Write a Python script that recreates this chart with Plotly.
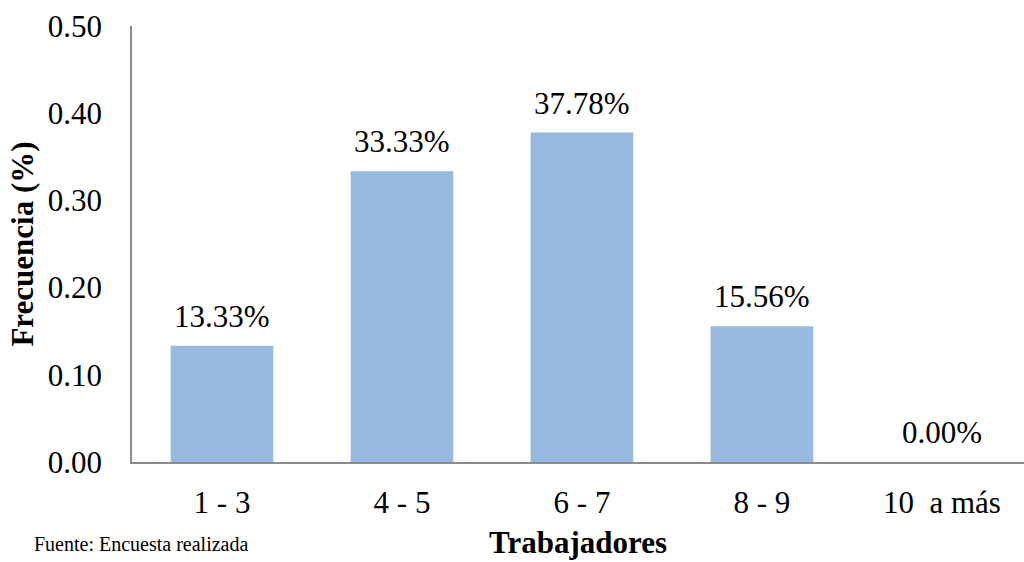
import plotly.graph_objects as go

categorias = ["1 - 3", "4 - 5", "6 - 7", "8 - 9", "10  a más"]
frecuencia = [0.1333, 0.3333, 0.3778, 0.1556, 0.0]
etiquetas = ["13.33%", "33.33%", "37.78%", "15.56%", "0.00%"]
ticks_y = [0.0, 0.1, 0.2, 0.3, 0.4, 0.5]

SERIF = "Liberation Serif, Times New Roman, serif"
posiciones = list(range(len(categorias)))

fig = go.Figure(
    go.Bar(
        x=posiciones,
        y=frecuencia,
        width=0.57,
        marker=dict(color="#97B8DF", line=dict(width=0)),
        hoverinfo="skip",
    )
)

# value labels above each bar
for xi, yi, lab in zip(posiciones, frecuencia, etiquetas):
    fig.add_annotation(
        x=xi, y=yi, xref="x", yref="y",
        text=lab, showarrow=False,
        yanchor="bottom", yshift=10,
        font=dict(family=SERIF, size=31, color="#000000"),
    )

fig.update_layout(
    width=1024,
    height=562,
    margin=dict(l=132, r=0, t=26, b=100),
    paper_bgcolor="white",
    plot_bgcolor="white",
    showlegend=False,
    font=dict(family=SERIF, color="#000000"),
    xaxis=dict(
        range=[-0.5, 4.456],
        tickmode="array",
        tickvals=posiciones,
        ticktext=categorias,
        tickfont=dict(family=SERIF, size=31),
        showline=True,
        linecolor="#8C8C8C",
        linewidth=1.5,
        ticks="",
        showgrid=False,
        zeroline=False,
        ticklabelstandoff=12,
        title=dict(
            text="<b>Trabajadores</b>",
            font=dict(family=SERIF, size=31),
            standoff=12,
        ),
    ),
    yaxis=dict(
        range=[0, 0.5],
        tickmode="array",
        tickvals=ticks_y,
        ticktext=[f"{v:.2f}" for v in ticks_y],
        tickfont=dict(family=SERIF, size=31),
        showline=True,
        linecolor="#8C8C8C",
        linewidth=1.5,
        ticks="",
        showgrid=False,
        zeroline=False,
        ticklabelstandoff=22,
        title=dict(
            text="<b>Frecuencia (%)</b>",
            font=dict(family=SERIF, size=31),
            standoff=5,
        ),
    ),
)

fig.add_annotation(
    text="Fuente: Encuesta realizada",
    xref="paper", yref="paper",
    x=-0.1125, y=-0.159,
    xanchor="left", yanchor="top",
    showarrow=False,
    font=dict(family=SERIF, size=20, color="#000000"),
)
fig.add_annotation(
    text="Elaboración: Propia",
    xref="paper", yref="paper",
    x=-0.1125, y=-0.215,
    xanchor="left", yanchor="top",
    showarrow=False,
    font=dict(family=SERIF, size=20, color="#555555"),
)

fig.write_html("out.html")
